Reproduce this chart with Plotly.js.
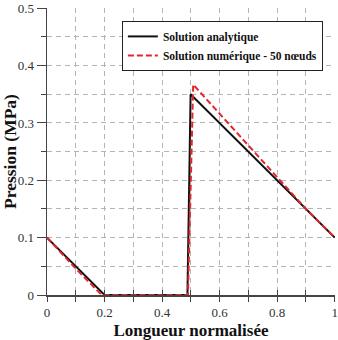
<!DOCTYPE html>
<html>
<head>
<meta charset="utf-8">
<script src="https://cdn.plot.ly/plotly-3.0.1.min.js"></script>
<style>html,body{margin:0;padding:0;background:#fff;}#chart{width:338px;height:340px;}</style>
</head>
<body>
<div id="chart"></div>
<script>
// Pressure along the normalised length: analytical vs numerical (50 nodes)
const analyticX = [0, 0.2, 0.488, 0.499, 1];
const analyticY = [0.1, 0, 0, 0.35, 0.1];
const numericX = [0, 0.1, 0.19, 0.49, 0.508, 0.9, 1];
const numericY = [0.1, 0.046, 0, 0, 0.367, 0.15, 0.1];
const seriesNames = ['Solution analytique', 'Solution numérique - 50 nœuds'];
const xTicks = [0, 0.2, 0.4, 0.6, 0.8, 1];
const xTickText = ['0', '0.2', '0.4', '0.6', '0.8', '1'];
const xMinor = [0.1, 0.3, 0.5, 0.7, 0.9];
const yTicks = [0, 0.1, 0.2, 0.3, 0.4, 0.5];
const yTickText = ['0', '0.1', '0.2', '0.3', '0.4', '0.5'];
const yMinor = [0.05, 0.15, 0.25, 0.35, 0.45];

const serif = '"Liberation Serif", "Times New Roman", serif';
const axisColor = '#444';
const gridColor = '#b4b4b4';

const traces = [
  {x: analyticX, y: analyticY, name: seriesNames[0], mode: 'lines',
   line: {color: '#111', width: 2}},
  {x: numericX, y: numericY, name: seriesNames[1], mode: 'lines',
   line: {color: '#e3262a', width: 2, dash: '6px,3px'}}
];

const xRange = [0, 1.0008];
const yRange = [0, 0.5005];

const layout = {
  width: 338, height: 340,
  margin: {l: 47, r: 3, t: 8, b: 45},
  paper_bgcolor: '#fff', plot_bgcolor: '#fff',
  showlegend: true,
  legend: {x: 0.26, y: 0.955, xanchor: 'left', yanchor: 'top',
    bgcolor: '#fff', bordercolor: '#222', borderwidth: 1,
    font: {family: serif, size: 11.5, color: '#111', weight: 'bold'},
    tracegroupgap: 0},
  xaxis: {
    range: xRange, tickvals: xTicks, ticktext: xTickText, ticklabeloverflow: 'allow',
    showgrid: true, gridcolor: gridColor, griddash: '5px,4px', gridwidth: 1,
    zeroline: false, showline: true, linecolor: axisColor, linewidth: 1.5,
    ticks: 'outside', ticklen: 5, tickcolor: axisColor,
    minor: {tickvals: xMinor, showgrid: true, gridcolor: gridColor,
      griddash: '5px,4px', ticks: 'outside', ticklen: 5, tickcolor: axisColor},
    tickfont: {family: serif, size: 13, color: '#333'},
    title: {text: 'Longueur normalisée', font: {family: serif, size: 17, color: '#111', weight: 'bold'}, standoff: 12}
  },
  // second x axis only supplies the inward half of the crossing ticks
  xaxis2: {
    overlaying: 'x', anchor: 'y', side: 'bottom', range: xRange,
    tickvals: xTicks.concat(xMinor), showticklabels: false, showgrid: false,
    zeroline: false, showline: false, ticks: 'inside', ticklen: 5, tickcolor: axisColor
  },
  yaxis: {
    range: yRange, tickvals: yTicks, ticktext: yTickText, ticklabeloverflow: 'allow',
    showgrid: true, gridcolor: gridColor, griddash: '5px,4px', gridwidth: 1,
    zeroline: false, showline: true, linecolor: axisColor, linewidth: 1.5,
    ticks: 'outside', ticklen: 9, tickcolor: axisColor,
    minor: {tickvals: yMinor, showgrid: true, gridcolor: gridColor,
      griddash: '5px,4px', ticks: 'outside', ticklen: 5, tickcolor: axisColor},
    tickfont: {family: serif, size: 13, color: '#333'},
    title: {text: 'Pression (MPa)', font: {family: serif, size: 17.5, color: '#111', weight: 'bold'}, standoff: 4}
  }
};

// invisible trace that binds xaxis2 so its ticks get drawn
traces.push({x: [xRange[0]], y: [0], xaxis: 'x2', yaxis: 'y', mode: 'markers',
  marker: {opacity: 0}, showlegend: false, hoverinfo: 'skip'});

Plotly.newPlot('chart', traces, layout, {displayModeBar: false, staticPlot: true});
</script>
</body>
</html>
